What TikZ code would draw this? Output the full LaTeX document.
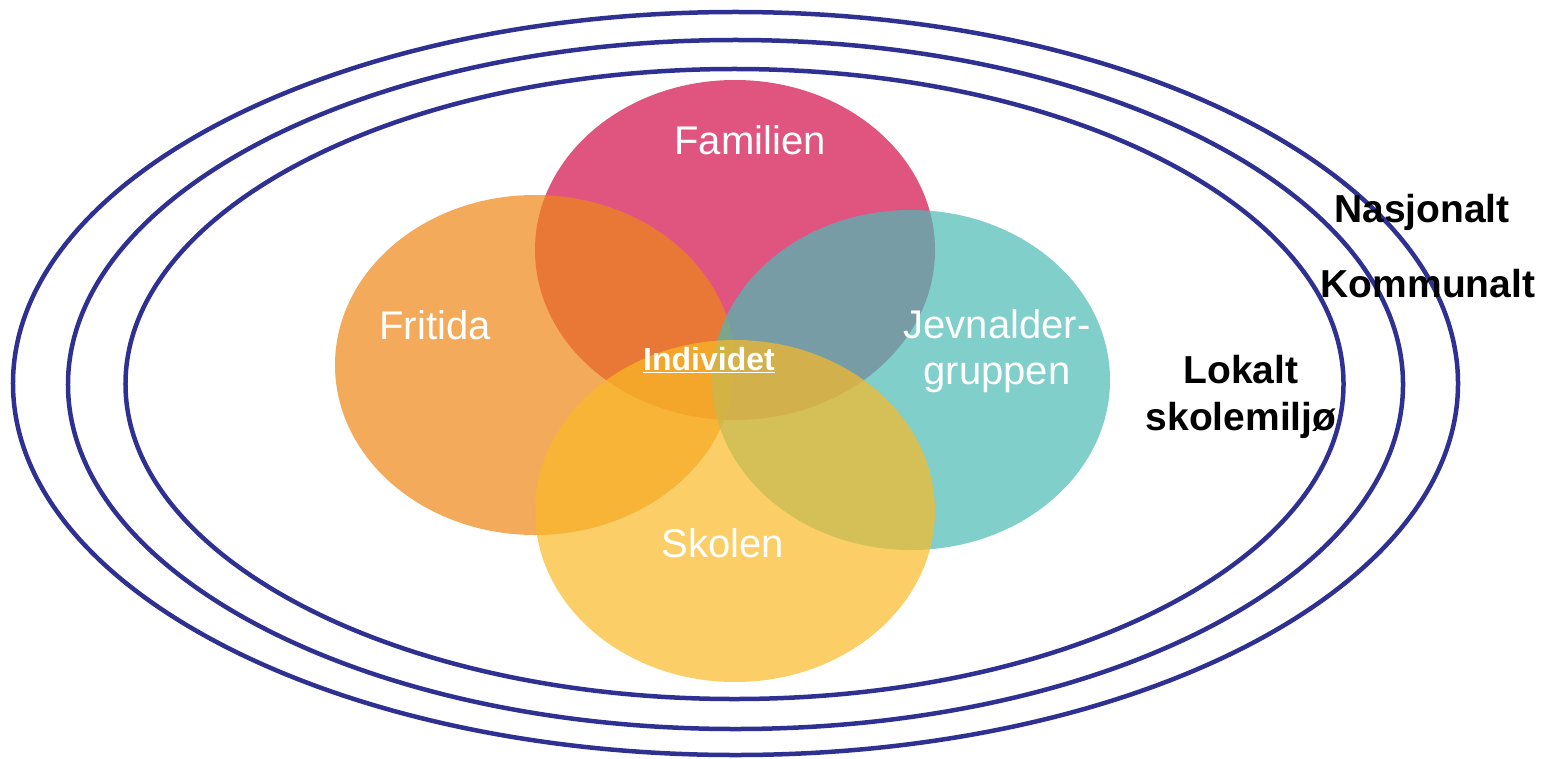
\documentclass[tikz,border=0pt]{standalone}
\usepackage{fontspec}
\setmainfont{Liberation Sans}
\definecolor{ringblue}{RGB}{46,49,146}
\definecolor{cpink}{RGB}{211,12,74}
\definecolor{corange}{RGB}{238,134,22}
\definecolor{cteal}{RGB}{75,186,181}
\definecolor{cyellow}{RGB}{249,185,38}
\tikzset{
  ring/.style={draw=ringblue, line width=4.5bp},
  blob/.style={fill opacity=0.7},
  inlabel/.style={text=white, font=\fontsize{40bp}{46bp}\selectfont, align=center, inner sep=0pt},
  outlabel/.style={text=black, font=\fontsize{39bp}{47bp}\selectfont\bfseries, align=center, inner sep=0pt},
}
\begin{document}
\begin{tikzpicture}[x=1bp,y=-1bp]
\useasboundingbox (0,0) rectangle (1541,759);
% rings
\draw[ring] (735.5,383.5) ellipse [x radius=722.5bp, y radius=371.5bp];
\draw[ring] (735.5,384.5) ellipse [x radius=667.5bp, y radius=344.5bp];
\draw[ring] (734.5,384) ellipse [x radius=609bp, y radius=315bp];
% venn ellipses
\fill[blob, cpink] (735,250) ellipse [x radius=200bp, y radius=170bp];
\fill[blob, corange] (535,365) ellipse [x radius=200bp, y radius=170bp];
\fill[blob, cteal] (911,380) ellipse [x radius=199bp, y radius=170bp];
\fill[blob, cyellow] (735,511) ellipse [x radius=200bp, y radius=171bp];
% labels
\node[inlabel] (familien) at (750,140) {Familien};
\node[inlabel] (fritida) at (435,325) {Fritida};
\node[inlabel] (jevn) at (997,351) {Jevnalder-\\gruppen};
\node[inlabel] (skolen) at (723,543) {Skolen};
\node[inlabel, font=\fontsize{32bp}{38bp}\selectfont\bfseries] (individ) at (709,360) {\underline{Individet}};
\node[outlabel] (nasj) at (1422,212) {Nasjonalt};
\node[outlabel] (komm) at (1428,284) {Kommunalt};
\node[outlabel] (lokalt) at (1241,397) {Lokalt\\skolemiljø};
\end{tikzpicture}
\end{document}
